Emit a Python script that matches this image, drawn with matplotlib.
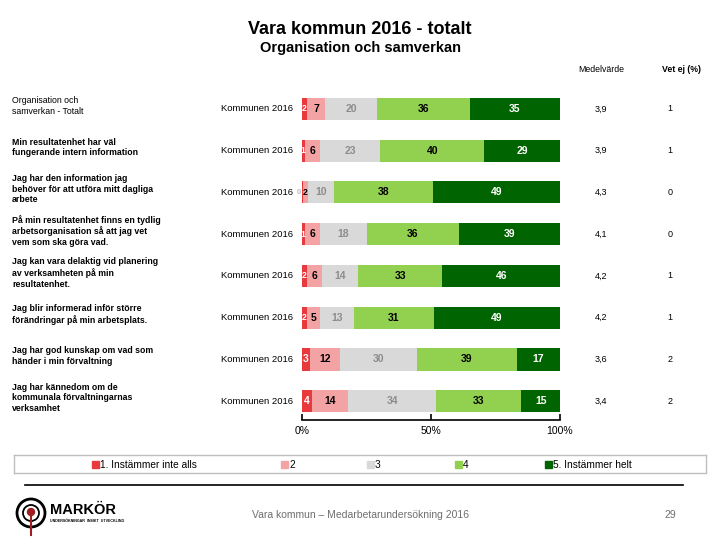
import numpy as np
import matplotlib.pyplot as plt
from matplotlib.patches import Ellipse, Rectangle
from matplotlib.lines import Line2D

plt.rcParams['font.family'] = ['Liberation Sans', 'DejaVu Sans']

questions = [
    'Organisation och\nsamverkan - Totalt',
    'Min resultatenhet har väl\nfungerande intern information',
    'Jag har den information jag\nbehöver för att utföra mitt dagliga\narbete',
    'På min resultatenhet finns en tydlig\narbetsorganisation så att jag vet\nvem som ska göra vad.',
    'Jag kan vara delaktig vid planering\nav verksamheten på min\nresultatenhet.',
    'Jag blir informerad inför större\nförändringar på min arbetsplats.',
    'Jag har god kunskap om vad som\nhänder i min förvaltning',
    'Jag har kännedom om de\nkommunala förvaltningarnas\nverksamhet',
]
group = 'Kommunen 2016'
s1 = [2, 1, 0, 1, 2, 2, 3, 4]
s2 = [7, 6, 2, 6, 6, 5, 12, 14]
s3 = [20, 23, 10, 18, 14, 13, 30, 34]
s4 = [36, 40, 38, 36, 33, 31, 39, 33]
s5 = [35, 29, 49, 39, 46, 49, 17, 15]
medel = ['3,9', '3,9', '4,3', '4,1', '4,2', '4,2', '3,6', '3,4']
vetej = ['1', '1', '0', '0', '1', '1', '2', '2']
legend_labels = ['1. Instämmer inte alls', '2', '3', '4', '5. Instämmer helt']

colors = ['#E8393C', '#F4A3A5', '#D9D9D9', '#92D050', '#006400']
txt_colors = ['white', 'black', '#8C8C8C', 'black', 'white']

W, H = 720, 540
fig = plt.figure(figsize=(7.2, 5.4), dpi=100)


def fx(px):
    return px / W


def fy(py):
    return 1 - py / H


def ring(cx, cy, r, **kw):
    # cirkel i pixelmått (figurkoordinater är inte kvadratiska)
    return Ellipse((fx(cx), fy(cy)), 2 * r / W, 2 * r / H,
                   transform=fig.transFigure, **kw)


fig.text(fx(360), fy(30), 'Vara kommun 2016 - totalt', ha='center', va='center',
         fontsize=13, fontweight='bold')
fig.text(fx(360), fy(48), 'Organisation och samverkan', ha='center', va='center',
         fontsize=10.5, fontweight='bold')

ax = fig.add_axes([fx(302), fy(420), fx(560) - fx(302), (420 - 88) / H])
series = [s1, s2, s3, s4, s5]
# 0-värden ritas som en smal remsa, sedan normeras varje rad till 100 %
raw = np.array(series, dtype=float)
raw = np.where(raw == 0, 0.4, raw)
widths = raw / raw.sum(axis=0) * 100
y = np.arange(len(questions))
left = np.zeros(len(questions))
for k, s in enumerate(series):
    draw = widths[k]
    ax.barh(y, draw, left=left, height=0.53, color=colors[k], linewidth=0)
    for i, v in enumerate(s):
        if v == 0:
            ax.text(left[i] - 0.2, y[i], '0', ha='right', va='center', fontsize=5.5,
                    color='#BBBBBB', fontweight='bold')
            continue
        ax.text(left[i] + draw[i] / 2, y[i], str(v), ha='center', va='center',
                fontsize=7.5 if v > 2 else 6.3, fontweight='bold', color=txt_colors[k])
    left += draw

ax.set_xlim(0, 100)
ax.set_ylim(7.45, -0.5)
for sp in ['top', 'right', 'left']:
    ax.spines[sp].set_visible(False)
ax.spines['bottom'].set_linewidth(1.2)
ax.set_yticks([])
ax.set_xticks([0, 50, 100])
ax.set_xticklabels(['0%', '50%', '100%'], fontsize=7.5)
ax.tick_params(axis='x', direction='in', length=4, width=1.2, pad=4)

# Radetiketter och kolumner
for i, q in enumerate(questions):
    yy = ax.transData.transform((0, i))[1]
    yf = yy / fig.bbox.height
    fig.text(fx(12), yf + 0.006, q, ha='left', va='center', fontsize=6.3,
             fontweight='normal' if i == 0 else 'bold', linespacing=1.25)
    fig.text(fx(293), yf, group, ha='right', va='center', fontsize=6.8)
    fig.text(fx(601), yf, medel[i], ha='center', va='center', fontsize=6.5)
    fig.text(fx(670), yf, vetej[i], ha='center', va='center', fontsize=6.5)

fig.text(fx(601), fy(69), 'Medelvärde', ha='center', va='center', fontsize=6.3)
fig.text(fx(681), fy(69), 'Vet ej (%)', ha='center', va='center', fontsize=6.3,
         fontweight='bold')

# Legend
fig.add_artist(Line2D([fx(14), fx(706)], [fy(455), fy(455)], color='#BFBFBF', lw=1))
fig.add_artist(Line2D([fx(14), fx(706)], [fy(473), fy(473)], color='#BFBFBF', lw=1))
fig.add_artist(Line2D([fx(14), fx(14)], [fy(455), fy(473)], color='#BFBFBF', lw=1))
fig.add_artist(Line2D([fx(706), fx(706)], [fy(455), fy(473)], color='#BFBFBF', lw=1))
leg_x = [92, 281, 367, 455, 545]
for k, lab in enumerate(legend_labels):
    fig.add_artist(Rectangle((fx(leg_x[k]), fy(468)), fx(7), 7 / H, color=colors[k]))
    fig.text(fx(leg_x[k] + 8), fy(464.5), lab, ha='left', va='center', fontsize=7.3)

# Sidfot
fig.add_artist(Line2D([fx(25), fx(683)], [fy(485), fy(485)], color='black', lw=1.2))
fig.text(fx(360), fy(515), 'Vara kommun – Medarbetarundersökning 2016', ha='center',
         va='center', fontsize=7.5, color='#6E6E6E')
fig.text(fx(670), fy(515), '29', ha='center', va='center', fontsize=7.5, color='#6E6E6E')

# Logga
fig.add_artist(ring(31, 513, 14, fill=False, ec='black', lw=2))
fig.add_artist(ring(31, 513, 8, fill=False, ec='black', lw=1.3))
fig.add_artist(Line2D([fx(31), fx(31)], [fy(513), fy(535)], color='#A01E22', lw=1.5))
fig.add_artist(ring(31, 512, 3.5, color='#A01E22'))
fig.text(fx(50), fy(510), 'MARKÖR', ha='left', va='center', fontsize=10.5,
         fontweight='bold')
fig.text(fx(50), fy(521), 'UNDERSÖKNINGAR  INSIKT  UTVECKLING', ha='left', va='center',
         fontsize=2.6, fontweight='bold')

fig.savefig('out.png', dpi=100)
